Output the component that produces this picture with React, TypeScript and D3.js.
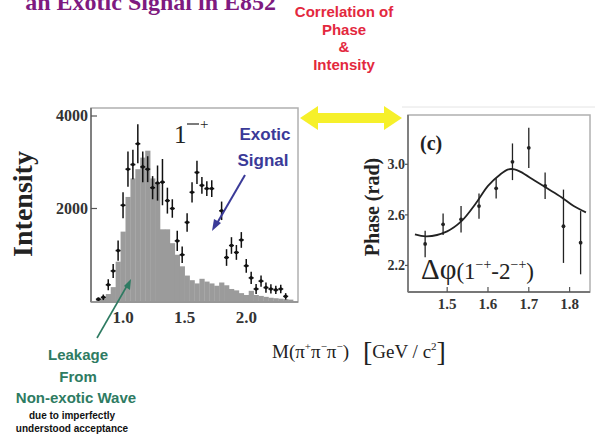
import React from "react";
import * as d3 from "d3";

// left panel: 1-+ intensity (grey = leakage histogram, black = points with errors)
const binCenters = [0.80, 0.84, 0.88, 0.92, 0.96, 1.00, 1.04, 1.08, 1.12, 1.16, 1.20, 1.24, 1.28, 1.32, 1.36, 1.40, 1.44, 1.48, 1.52, 1.56, 1.60, 1.64, 1.68, 1.72, 1.76, 1.80, 1.84, 1.88, 1.92, 1.96, 2.00, 2.04, 2.08, 2.12, 2.16, 2.20, 2.24, 2.28, 2.32, 2.36];
const leakage = [30, 60, 150, 300, 850, 1500, 2250, 2650, 2850, 3100, 3250, 2650, 2550, 1550, 1550, 1250, 1000, 750, 550, 450, 380, 480, 420, 380, 330, 400, 340, 260, 230, 170, 130, 220, 130, 110, 90, 70, 60, 50, 40, 30];

const intMass = [0.80, 0.84, 0.88, 0.92, 0.96, 1.00, 1.04, 1.08, 1.12, 1.16, 1.20, 1.24, 1.28, 1.32, 1.36, 1.40, 1.44, 1.48, 1.52, 1.56, 1.60, 1.64, 1.68, 1.72, 1.80, 1.84, 1.88, 1.92, 1.96, 2.00, 2.04, 2.08, 2.12, 2.16, 2.20, 2.24, 2.28, 2.32];
const intValue = [40, 80, 350, 650, 1090, 2070, 2850, 2950, 3400, 2900, 2850, 2450, 2550, 2570, 2170, 2000, 1300, 1000, 1700, 2350, 2780, 2500, 2430, 2430, 1950, 940, 1200, 1050, 1320, 760, 500, 260, 430, 290, 260, 240, 260, 100];
const intError = [30, 60, 120, 150, 220, 280, 380, 320, 420, 330, 280, 250, 380, 500, 280, 200, 220, 180, 200, 220, 250, 180, 160, 180, 200, 180, 180, 160, 170, 150, 130, 110, 120, 110, 100, 90, 90, 70];
const intYTicks = [2000, 4000];
const intXTicks = [1.0, 1.5, 2.0];

// right panel: phase difference
const phaseMass = [1.446, 1.49, 1.534, 1.578, 1.62, 1.66, 1.70, 1.74, 1.785, 1.827];
const phaseValue = [2.37, 2.525, 2.565, 2.67, 2.81, 3.02, 3.13, 2.83, 2.51, 2.38];
const phaseError = [0.105, 0.085, 0.105, 0.1, 0.08, 0.145, 0.16, 0.105, 0.29, 0.25];
const fitMass = [1.421, 1.45, 1.50, 1.535, 1.57, 1.60, 1.63, 1.65, 1.665, 1.68, 1.715, 1.745, 1.78, 1.81, 1.84];
const fitPhase = [2.445, 2.43, 2.47, 2.55, 2.69, 2.83, 2.92, 2.96, 2.96, 2.94, 2.87, 2.81, 2.74, 2.67, 2.62];
const phaseYTicks = [2.2, 2.6, 3.0];
const phaseXTicks = [1.5, 1.6, 1.7, 1.8];

const serif = "'Liberation Serif', 'DejaVu Serif', serif";
const sans = "'Liberation Sans', Arial, sans-serif";

export default function App() {
  const lx = d3.scaleLinear().domain([0.74, 2.42]).range([91, 298]);
  const ly = d3.scaleLinear().domain([0, 4000]).range([301, 116]);
  const rx = d3.scaleLinear().domain([1.404, 1.85]).range([408, 590]);
  const ry = d3.scaleLinear().domain([1.99, 3.39]).range([292, 115]);

  const fitLine = d3
    .line<number>()
    .curve(d3.curveCatmullRom)
    .x((_, i) => rx(fitMass[i]))
    .y(d => ry(d));

  const half = 0.02;

  return (
    <svg width={595} height={439} style={{ position: "absolute", left: 0, top: 0, background: "#fff" }}>
      {/* clipped title */}
      <text x={276} y={10} textAnchor="end" fontFamily={serif} fontWeight="bold" fontSize={24} fill="#7e1a80">
        an Exotic Signal in E852
      </text>

      {/* red note */}
      <g fontFamily={sans} fontWeight="bold" fontSize={15} fill="#e3283e" textAnchor="middle">
        <text x={344} y={17}>Correlation of</text>
        <text x={344} y={35}>Phase</text>
        <text x={344} y={52}>&amp;</text>
        <text x={344} y={70}>Intensity</text>
      </g>

      {/* yellow double arrow */}
      <path d="M300,118 L318,106 L318,113 L384,113 L384,106 L402,118 L384,130 L384,123 L318,123 L318,130 Z" fill="#f6f02a" />
      <line x1={402} y1={107} x2={595} y2={107} stroke="#e4e4e4" strokeWidth={1} />

      {/* ===== left panel ===== */}
      <g>
        {binCenters.map((c, i) => (
          <rect
            key={i}
            x={lx(c - half)}
            y={ly(leakage[i])}
            width={lx(c + half) - lx(c - half) + 0.3}
            height={ly(0) - ly(leakage[i])}
            fill="#9b9b9b"
          />
        ))}
        <rect x={91} y={108} width={207} height={194} fill="none" stroke="#b0b0b0" strokeWidth={1.5} />
        <line x1={91} y1={108} x2={91} y2={302} stroke="#6a6a6a" strokeWidth={1.5} />
        <line x1={91} y1={302} x2={298} y2={302} stroke="#888" strokeWidth={1.5} />
        {intYTicks.map(t => (
          <g key={t}>
            <line x1={91} y1={ly(t)} x2={97} y2={ly(t)} stroke="#555" strokeWidth={1.2} />
            <text x={88} y={ly(t) + 5} textAnchor="end" fontFamily={serif} fontWeight="bold" fontSize={16} fill="#333">
              {t}
            </text>
          </g>
        ))}
        {intXTicks.map(t => (
          <text key={t} x={lx(t)} y={323} textAnchor="middle" fontFamily={serif} fontWeight="bold" fontSize={17} fill="#333">
            {t.toFixed(1)}
          </text>
        ))}
        {intMass.map((m, i) => (
          <g key={i} stroke="#111" strokeWidth={1.5}>
            <line x1={lx(m)} y1={ly(intValue[i] - intError[i])} x2={lx(m)} y2={ly(intValue[i] + intError[i])} />
            <line x1={lx(m) - 2.5} y1={ly(intValue[i])} x2={lx(m) + 2.5} y2={ly(intValue[i])} />
            <circle cx={lx(m)} cy={ly(intValue[i])} r={1.8} fill="#111" stroke="none" />
          </g>
        ))}
        <text x={174} y={143} fontFamily={serif} fontSize={25} fill="#222">1</text>
        <line x1={187} y1={124} x2={199} y2={124} stroke="#222" strokeWidth={1.2} />
        <text x={200} y={129} fontFamily={serif} fontSize={15} fill="#222">+</text>

        <g fontFamily={sans} fontWeight="bold" fontSize={17} fill="#3a3a98" textAnchor="middle">
          <text x={265} y={140}>Exotic</text>
          <text x={263} y={166}>Signal</text>
        </g>
        <line x1={245} y1={175} x2={216} y2={225} stroke="#3a3a98" strokeWidth={2} />
        <path d="M212,231 L214,219 L221,223 Z" fill="#3a3a98" />
      </g>

      {/* left axis title */}
      <text transform="translate(32,204) rotate(-90)" textAnchor="middle" fontFamily={serif} fontWeight="bold" fontSize={28} fill="#222">
        Intensity
      </text>

      {/* leakage note */}
      <line x1={97} y1={338} x2={128} y2={284} stroke="#2e7b62" strokeWidth={1.6} />
      <path d="M131,279 L130,290 L124,286 Z" fill="#2e7b62" />
      <g fontFamily={sans} fontWeight="bold" textAnchor="middle">
        <text x={78} y={360} fontSize={15} fill="#2e7b62">Leakage</text>
        <text x={78} y={382} fontSize={15} fill="#2e7b62">From</text>
        <text x={76} y={403} fontSize={15} fill="#2e7b62">Non-exotic Wave</text>
        <text x={72} y={419} fontSize={10} fill="#111">due to imperfectly</text>
        <text x={72} y={432} fontSize={10} fill="#111">understood acceptance</text>
      </g>

      {/* mass axis label */}
      <text x={272} y={358} fontFamily={serif} fontSize={19} fill="#222">
        M(π<tspan fontSize={11} dy={-8}>+</tspan>
        <tspan dy={8}>π</tspan>
        <tspan fontSize={11} dy={-8}>−</tspan>
        <tspan dy={8}>π</tspan>
        <tspan fontSize={11} dy={-8}>−</tspan>
        <tspan dy={8}>)</tspan>
        <tspan dx={14} fontSize={28} dy={3}>[</tspan>
        <tspan dy={-3}>GeV / c</tspan>
        <tspan fontSize={11} dy={-8}>2</tspan>
        <tspan fontSize={28} dy={11}>]</tspan>
      </text>

      {/* ===== right panel ===== */}
      <g>
        <rect x={408} y={115} width={182} height={177} fill="none" stroke="#b0b0b0" strokeWidth={1.5} />
        <line x1={408} y1={115} x2={408} y2={292} stroke="#6a6a6a" strokeWidth={1.5} />
        <line x1={408} y1={292} x2={590} y2={292} stroke="#777" strokeWidth={2} />
        {phaseYTicks.map(t => (
          <g key={t}>
            <line x1={405} y1={ry(t)} x2={408} y2={ry(t)} stroke="#555" strokeWidth={1.2} />
            <text x={405} y={ry(t) + 5} textAnchor="end" fontFamily={serif} fontWeight="bold" fontSize={14} fill="#333">
              {t.toFixed(1)}
            </text>
          </g>
        ))}
        {phaseXTicks.map(t => (
          <g key={t}>
            <line x1={rx(t)} y1={292} x2={rx(t)} y2={287} stroke="#555" strokeWidth={1.2} />
            <text x={rx(t)} y={309} textAnchor="middle" fontFamily={serif} fontWeight="bold" fontSize={15} fill="#333">
              {t.toFixed(1)}
            </text>
          </g>
        ))}
        <path d={fitLine(fitPhase) ?? ""} fill="none" stroke="#222" strokeWidth={1.8} />
        {phaseMass.map((m, i) => (
          <g key={i} stroke="#222" strokeWidth={1.3}>
            <line x1={rx(m)} y1={ry(phaseValue[i] - phaseError[i])} x2={rx(m)} y2={ry(phaseValue[i] + phaseError[i])} />
            <circle cx={rx(m)} cy={ry(phaseValue[i])} r={1.9} fill="#222" stroke="none" />
          </g>
        ))}
        <text x={420} y={150} fontFamily={serif} fontWeight="bold" fontSize={20} fill="#222">(c)</text>
        <text x={421} y={279} fontFamily={serif} fontSize={23} fill="#222">
          <tspan fontSize={29}>Δφ</tspan>
          <tspan>(1</tspan>
          <tspan fontSize={14} dy={-10}>−+</tspan>
          <tspan dy={10}>-2</tspan>
          <tspan fontSize={14} dy={-10}>−+</tspan>
          <tspan dy={10}>)</tspan>
        </text>
      </g>

      <text transform="translate(379,207) rotate(-90)" textAnchor="middle" fontFamily={serif} fontWeight="bold" fontSize={20} fill="#222">
        Phase (rad)
      </text>
    </svg>
  );
}
